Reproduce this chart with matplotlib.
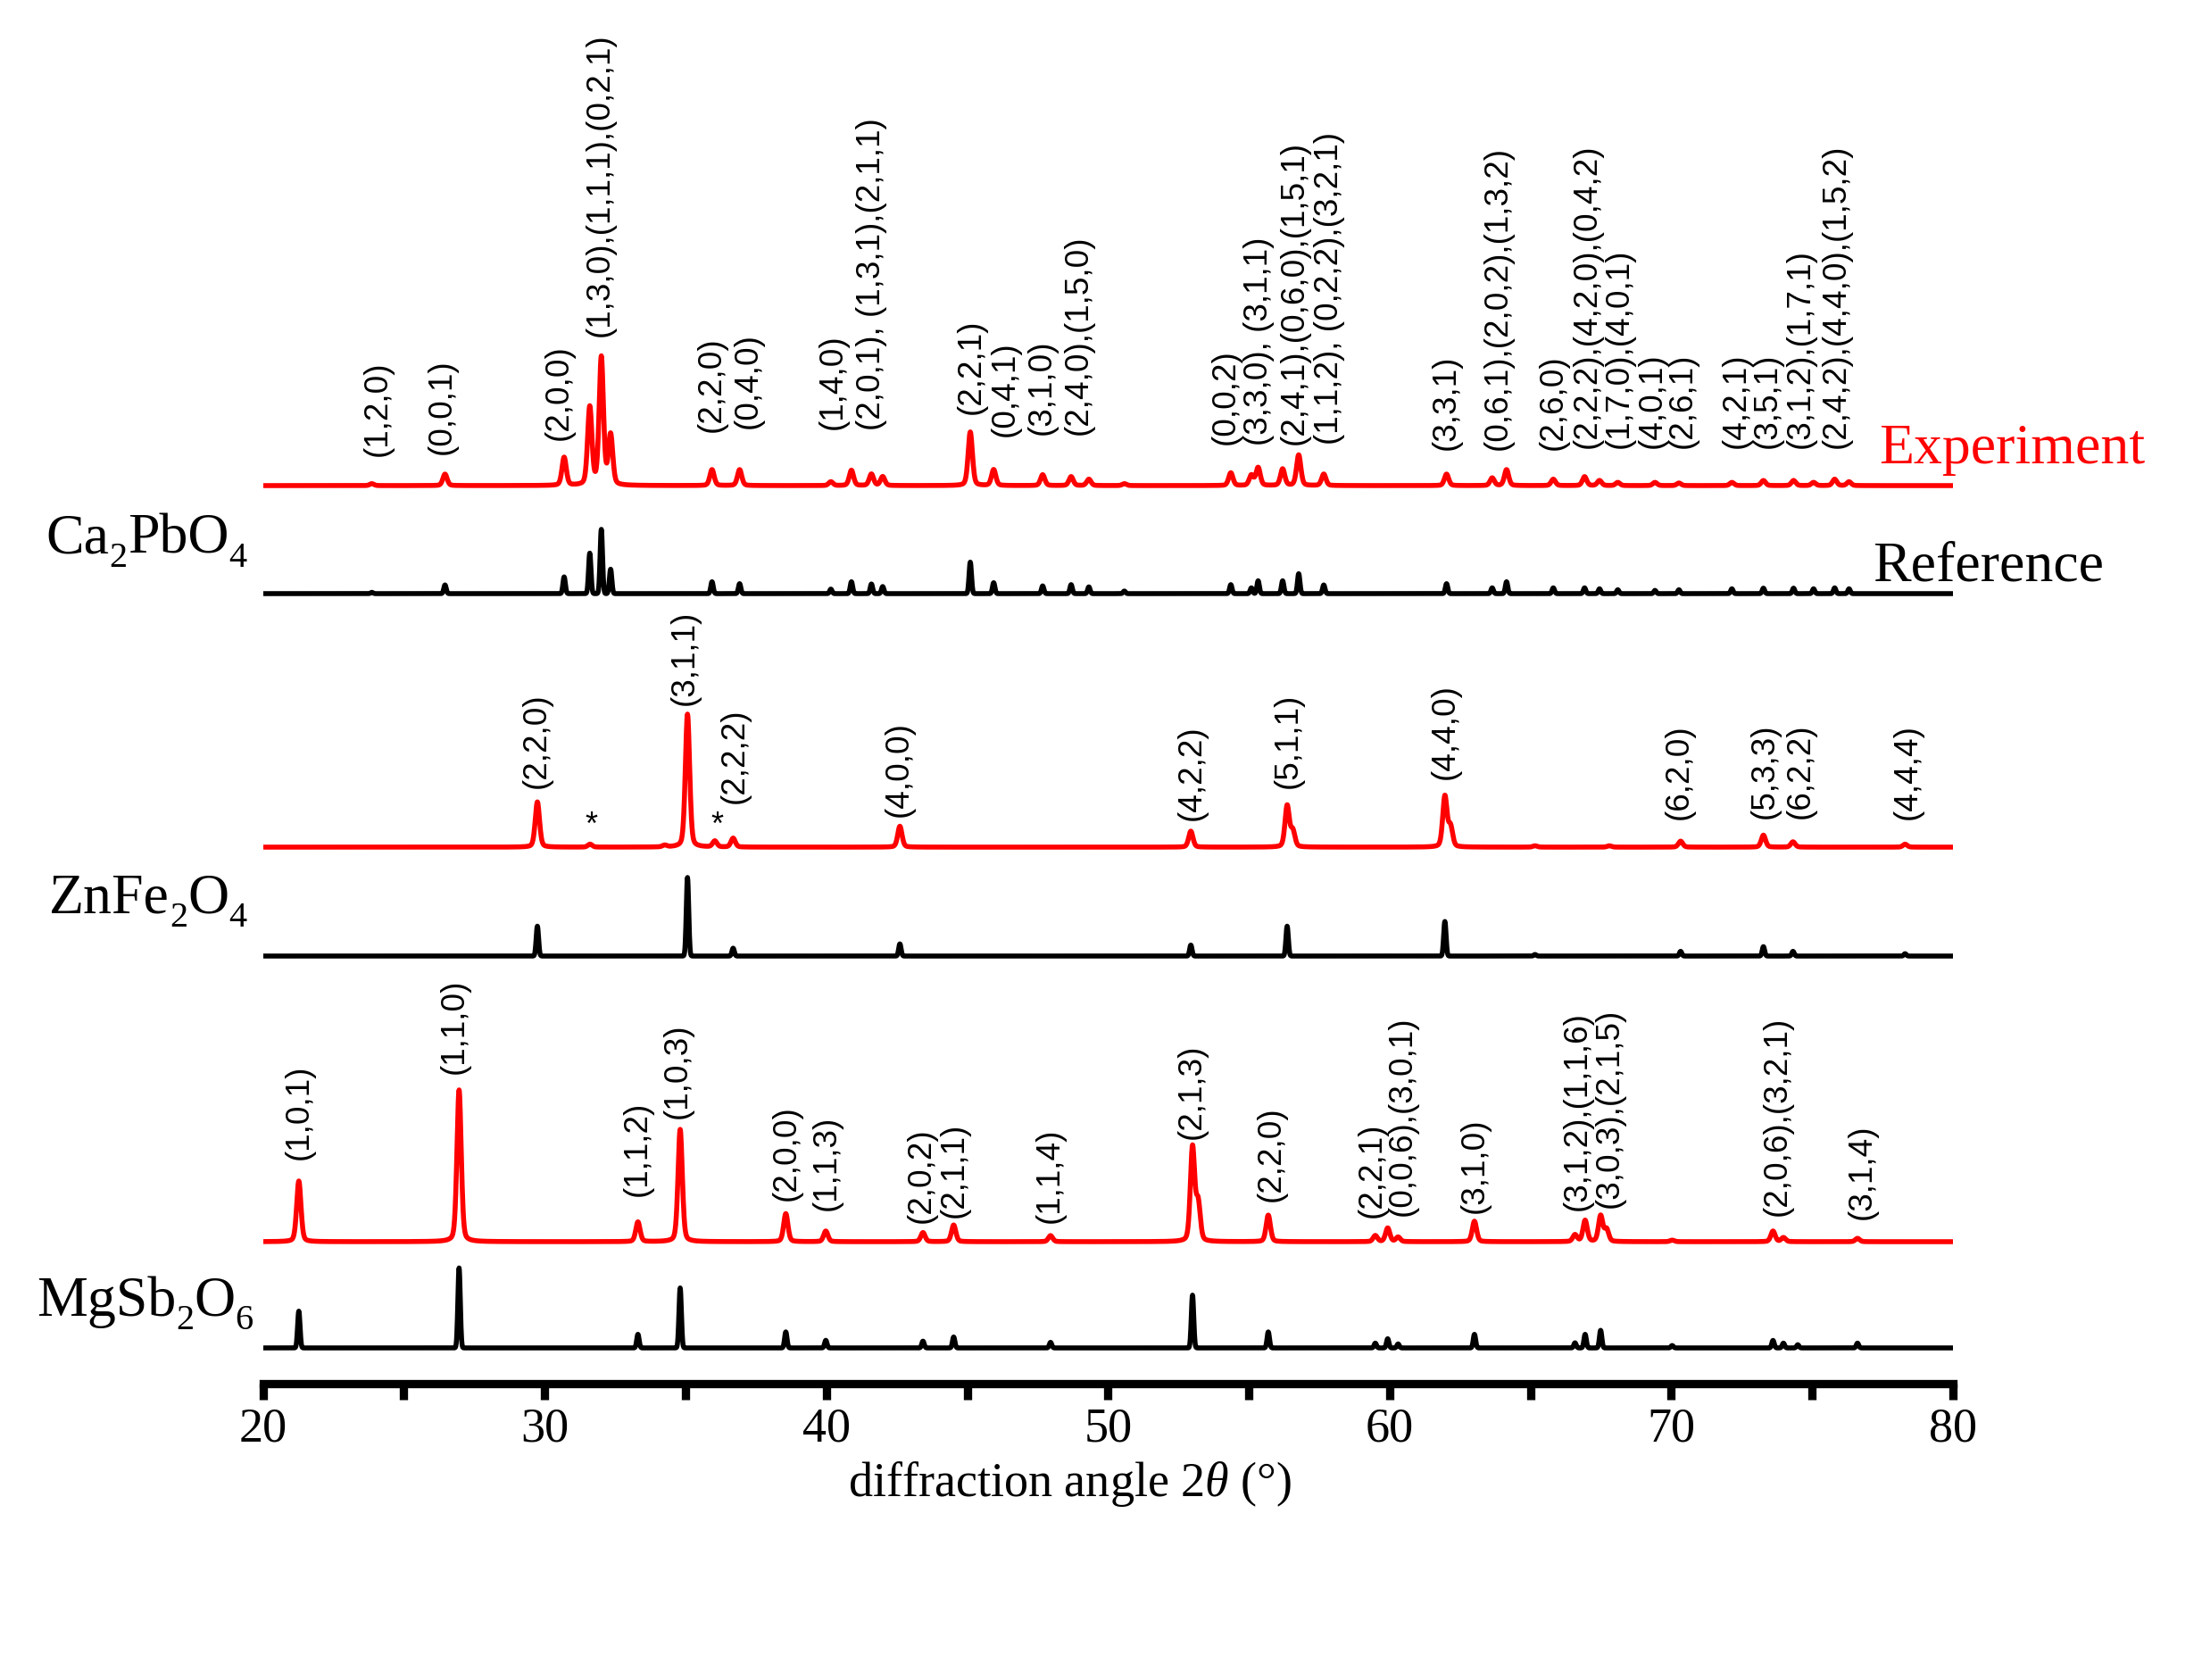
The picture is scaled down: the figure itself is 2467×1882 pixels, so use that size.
import numpy as np
import matplotlib
matplotlib.use("Agg")
from matplotlib import pyplot as plt
from matplotlib.ticker import MultipleLocator

plt.rcParams['font.family'] = ['Liberation Serif', 'DejaVu Serif']
plt.rcParams['mathtext.fontset'] = 'custom'
plt.rcParams['mathtext.rm'] = 'Liberation Serif'
plt.rcParams['mathtext.it'] = 'Liberation Serif:italic'

# ---- Ca2PbO4: peak positions (2theta, deg) and relative intensities (%)
ca_pos = [23.86, 26.46, 30.69, 31.60, 32.01, 32.34, 35.94, 36.92, 40.16,
          40.89, 41.60, 42.00, 45.11, 45.94, 47.68, 48.69, 49.32, 50.58,
          54.36, 55.09, 55.33, 56.20, 56.77, 57.66, 62.02, 63.64, 64.15,
          65.81, 66.92, 67.45, 68.10, 69.42, 70.27, 72.15, 73.27, 74.34,
          75.05, 75.80, 76.31]
ca_exp_int = [1.5, 9, 22, 61, 100, 39, 12.5, 12.5, 3, 12, 9, 7, 42, 12.5,
              8.5, 7, 5, 1.5, 10, 8, 14, 13, 24, 9, 9, 6, 12.5, 5, 7, 4, 2.5,
              2.5, 2, 2.5, 4, 4, 2.5, 5, 3]
ca_ref_int = [2, 13.5, 26, 63, 100, 38, 18.5, 15.5, 7, 18.5, 15, 11, 49, 17,
              12, 14, 10.5, 4, 14, 9, 20, 20, 31, 13.5, 15.5, 9, 18.5, 9, 9,
              7.5, 6, 5, 6, 7.5, 8.5, 8.5, 7.5, 9, 7.5]

# ---- ZnFe2O4
zn_exp_pos = [29.74, 31.61, 34.26, 35.07, 36.04, 36.69, 42.61, 52.94, 56.36,
              56.56, 61.96, 62.16, 65.16, 67.80, 70.33, 73.27, 74.32, 78.30]
zn_exp_int = [34, 2.2, 1.3, 100, 4.5, 6.7, 15.7, 12, 31, 12, 38, 15, 1, 1,
              4.5, 9, 4, 2.2]
zn_ref_pos = [29.74, 35.07, 36.69, 42.61, 52.94, 56.36, 61.96, 65.16, 70.33,
              73.27, 74.32, 78.30]
zn_ref_int = [38, 100, 10, 15.5, 14, 38, 44, 2, 6, 12, 6, 3]

# ---- MgSb2O6
mg_exp_pos = [21.27, 26.96, 33.31, 34.81, 38.56, 39.98, 43.43, 44.52, 47.96,
              53.00, 53.20, 55.69, 59.49, 59.93, 60.30, 63.01, 66.58, 66.94,
              67.49, 67.70, 70.03, 73.61, 73.98, 76.61]
mg_exp_int = [40, 100, 13, 74, 18.5, 7, 6, 11, 4, 62, 25, 17.5, 4, 9, 3,
              13.5, 4.5, 14, 17, 8, 1, 7, 2.7, 2.2]
mg_ref_pos = [21.27, 26.96, 33.31, 34.81, 38.56, 39.98, 43.43, 44.52, 47.96,
              53.00, 55.69, 59.49, 59.93, 60.30, 63.01, 66.58, 66.94, 67.49,
              70.03, 73.61, 73.98, 74.49, 76.61]
mg_ref_int = [46, 100, 17, 75, 20, 9.5, 8.5, 13.7, 7, 66, 20, 6, 11.5, 5, 17,
              6.4, 17, 22, 3, 9.4, 6, 4, 6]

# ---- hkl labels
ca_labels = ["(1,2,0)", "(0,0,1)", "(2,0,0)", "(1,3,0),(1,1,1),(0,2,1)",
             "(2,2,0)", "(0,4,0)", "(1,4,0)", "(2,0,1), (1,3,1),(2,1,1)",
             "(2,2,1)", "(0,4,1)", "(3,1,0)", "(2,4,0),(1,5,0)", "(0,0,2)",
             "(3,3,0), (3,1,1)", "(2,4,1),(0,6,0),(1,5,1)",
             "(1,1,2), (0,2,2),(3,2,1)", "(3,3,1)", "(0,6,1),(2,0,2),(1,3,2)",
             "(2,6,0)", "(2,2,2),(4,2,0),(0,4,2)", "(1,7,0),(4,0,1)",
             "(4,0,1)", "(2,6,1)", "(4,2,1)", "(3,5,1)", "(3,1,2),(1,7,1)",
             "(2,4,2),(4,4,0),(1,5,2)"]
ca_label_x = [24.06, 26.36, 30.51, 31.97, 35.94, 37.24, 40.24, 41.62, 45.14,
              46.36, 47.64, 48.96, 54.17, 55.37, 56.61, 57.86, 62.02, 63.84,
              65.81, 67.03, 68.16, 69.32, 70.39, 72.30, 73.43, 74.59, 75.86]
ca_label_y = [1039, 1041, 1057, 1173, 1066, 1070, 1069, 1068, 1086, 1061,
              1063, 1063, 1052, 1051, 1052, 1052, 1046, 1046, 1046, 1048,
              1048, 1048, 1048, 1048, 1048, 1048, 1048]

zn_labels = ["(2,2,0)", "(3,1,1)", "(2,2,2)", "(4,0,0)", "(4,2,2)",
             "(5,1,1)", "(4,4,0)", "(6,2,0)", "(5,3,3)", "(6,2,2)", "(4,4,4)"]
zn_label_x = [29.70, 34.97, 36.75, 42.57, 52.96, 56.40, 61.96, 70.28, 73.33,
              74.59, 78.38]
zn_label_y = [667, 760, 650, 635, 631, 667, 677, 632, 633, 633, 632]
zn_star_x = [31.65, 36.11]

mg_labels = ["(1,0,1)", "(1,1,0)", "(1,1,2)", "(1,0,3)", "(2,0,0)",
             "(1,1,3)", "(2,0,2)", "(2,1,1)", "(1,1,4)", "(2,1,3)",
             "(2,2,0)", "(2,2,1)", "(0,0,6),(3,0,1)", "(3,1,0)",
             "(3,1,2),(1,1,6)", "(3,0,3),(2,1,5)", "(2,0,6),(3,2,1)",
             "(3,1,4)"]
mg_label_x = [21.29, 26.80, 33.29, 34.73, 38.58, 40.00, 43.38, 44.56, 47.95,
              52.96, 55.79, 59.38, 60.45, 63.03, 66.68, 67.80, 73.78, 76.76]
mg_label_y = [251, 347, 210, 297, 205, 194, 180, 186, 180, 274, 204, 186,
              188, 191, 194, 197, 188, 184]

# formula pieces: (text, is_subscript)
ca_name = [("Ca", False), ("2", True), ("PbO", False), ("4", True)]
zn_name = [("ZnFe", False), ("2", True), ("O", False), ("4", True)]
mg_name = [("MgSb", False), ("2", True), ("O", False), ("6", True)]

two_theta = np.linspace(20, 80, 6001)


def pattern(pos, inten, fwhm, eta):
    y = np.zeros_like(two_theta)
    for p, h in zip(pos, inten):
        u = (two_theta - p) / fwhm
        g = np.exp(-4 * np.log(2) * u ** 2)
        lz = 1 / (1 + 4 * u ** 2)
        y += h * ((1 - eta) * g + eta * lz)
    return y / 100


def formula(ax, x, y, parts, size=23, sub_size=14.5, drop=3.5):
    first = ax.text(x, y, parts[0][0], ha='left', va='baseline',
                    fontsize=size, clip_on=False)
    prev = first
    for txt, sub in parts[1:]:
        prev = ax.annotate(txt, xy=(1, 0), xycoords=(prev, first),
                           xytext=(0, -drop if sub else 0),
                           textcoords='offset points', ha='left',
                           va='bottom', fontsize=sub_size if sub else size)


fig = plt.figure(figsize=(12.335, 9.41), dpi=200)
ax = fig.add_axes([0.11946, 0.17641, 0.76745, 0.82359])
ax.set_xlim(20, 80)
ax.set_ylim(0, 1550)

# (offset, scale) of each stacked trace
traces = [
    (ca_pos, ca_exp_int, 1006, 143, 'red', 0.18, 0.3),
    (ca_pos, ca_ref_int, 885, 72, 'black', 0.1, 0.0),
    (zn_exp_pos, zn_exp_int, 601, 149, 'red', 0.18, 0.3),
    (zn_ref_pos, zn_ref_int, 479, 88, 'black', 0.1, 0.0),
    (mg_exp_pos, mg_exp_int, 159, 170, 'red', 0.18, 0.3),
    (mg_ref_pos, mg_ref_int, 40, 89.6, 'black', 0.1, 0.0),
]
for pos, inten, off, sc, col, w, eta in traces:
    ax.plot(two_theta, off + sc * pattern(pos, inten, w, eta), color=col,
            lw=2.0, solid_joinstyle='round')

lab_kw = dict(rotation=90, ha='center', va='bottom', fontsize=13.3,
              family=['Liberation Sans', 'DejaVu Sans'])
for labels, xs, ys in [(ca_labels, ca_label_x, ca_label_y),
                       (zn_labels, zn_label_x, zn_label_y),
                       (mg_labels, mg_label_x, mg_label_y)]:
    for t, x, y in zip(labels, xs, ys):
        ax.text(x, y, t, **lab_kw)
for x in zn_star_x:
    ax.text(x, 625, '*', ha='center', va='center', fontsize=13,
            family=['Liberation Sans', 'DejaVu Sans'])

formula(ax, 12.30, 930, ca_name)
formula(ax, 12.40, 527, zn_name)
formula(ax, 11.95, 76, mg_name)
ax.text(77.36, 1031, 'Experiment', color='red', ha='left', va='baseline',
        fontsize=23, clip_on=False)
ax.text(77.16, 899, 'Reference', color='black', ha='left', va='baseline',
        fontsize=23, clip_on=False)

ax.text(48.65, -126, r'diffraction angle 2$\theta$ (°)', ha='center',
        va='baseline', fontsize=19.5, clip_on=False)

for s in ['left', 'right', 'top']:
    ax.spines[s].set_visible(False)
ax.spines['bottom'].set_linewidth(3.35)
ax.spines['bottom'].set_capstyle('projecting')
ax.set_yticks([])
ax.xaxis.set_major_locator(MultipleLocator(10))
ax.xaxis.set_minor_locator(MultipleLocator(5))
ax.tick_params(axis='x', which='both', direction='out', length=6.5,
               width=3.35, labelsize=19.5, pad=3)
ax.patch.set_visible(False)

fig.savefig('out.png', dpi=200)
